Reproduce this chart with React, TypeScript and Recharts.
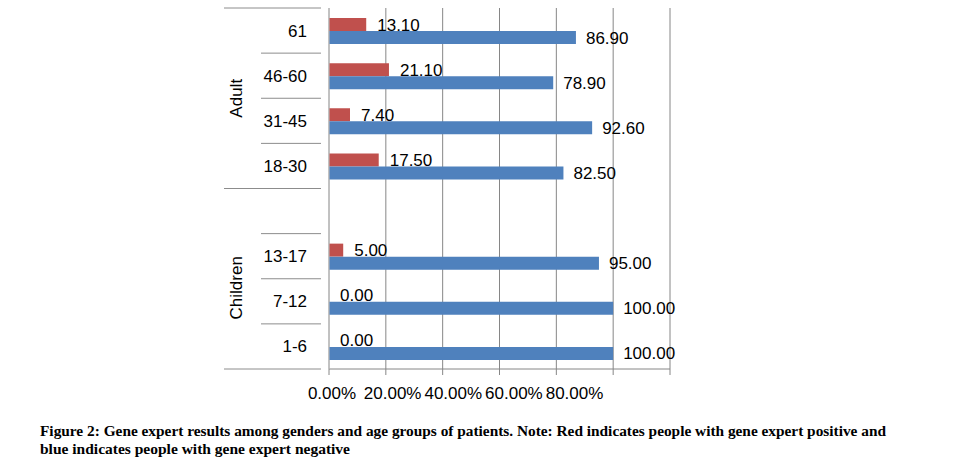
import React from "react";
import { Bar, BarChart, CartesianGrid, LabelList, XAxis, YAxis } from "recharts";

// age groups, top to bottom; the empty entry is the spacer row between the two groups
const AGE_GROUPS = ["61", "46-60", "31-45", "18-30", "", "13-17", "7-12", "1-6"];
const POSITIVE = [13.1, 21.1, 7.4, 17.5, null, 5.0, 0.0, 0.0];
const NEGATIVE = [86.9, 78.9, 92.6, 82.5, null, 95.0, 100.0, 100.0];
const X_TICKS = [0, 20, 40, 60, 80, 100, 120];
const X_TICK_LABELS = ["0.00%", "20.00%", "40.00%", "60.00%", "80.00%", "", ""];
// group name, drawn next to the row with this index
const GROUPS = [
  { name: "Adult", row: 1, shift: 0.5 },
  { name: "Children", row: 6, shift: -0.3 },
];
const CAPTION = [
  "Figure 2: Gene expert results among genders and age groups of patients. Note: Red indicates people with gene expert positive and",
  "blue indicates people with gene expert negative",
];

const W = 958;
const H = 473;
const TOP = 8;
const BOTTOM = 369;
const LEFT = 329;
const RIGHT = 670;
const BAND = (BOTTOM - TOP) / AGE_GROUPS.length;
const BAR = 13;
const FONT = "'Liberation Sans', Arial, sans-serif";
const SERIF = "'Liberation Serif', 'Times New Roman', serif";

const data = AGE_GROUPS.map((age, i) => ({
  age,
  positive: POSITIVE[i],
  negative: NEGATIVE[i],
}));

const fmt = (v: any) => (v == null ? "" : Number(v).toFixed(2));

function AgeTick(props: any) {
  const { x, y, payload, index } = props;
  const top = y - BAND / 2;
  const lineFrom = index === 0 || AGE_GROUPS[index] === "" ? 224 : 261;
  const group = GROUPS.find((g) => g.row === index);
  return (
    <g>
      <line x1={lineFrom} x2={x} y1={top} y2={top} stroke="#8c8c8c" strokeWidth={1} />
      {index === AGE_GROUPS.length - 1 && (
        <line x1={224} x2={x} y1={y + BAND / 2} y2={y + BAND / 2} stroke="#8c8c8c" strokeWidth={1} />
      )}
      <text x={307} y={y} dy={6} textAnchor="end" fontSize={17} fill="#000" fontFamily={FONT}>
        {payload.value}
      </text>
      {group && (
        <text
          x={0}
          y={0}
          textAnchor="middle"
          fontSize={17}
          fill="#000"
          fontFamily={FONT}
          transform={`translate(242, ${y + group.shift * BAND}) rotate(-90)`}
        >
          {group.name}
        </text>
      )}
    </g>
  );
}

function PctTick(props: any) {
  const { x, y, index } = props;
  return (
    <text x={x + 3 + index * 3.8} y={y + 22} textAnchor="middle" fontSize={17} fill="#000" fontFamily={FONT}>
      {X_TICK_LABELS[index]}
    </text>
  );
}

// label for the blue bar; a zero red bar is not drawn, so its "0.00" goes here too
function NegLabel(props: any) {
  const { x, y, width, height, value } = props;
  if (!value || value.negative == null) return null;
  const cy = y + height / 2;
  return (
    <g>
      <text x={x + width + 10} y={cy} dy={6} fontSize={17} fill="#000" fontFamily={FONT}>
        {fmt(value.negative)}
      </text>
      {value.positive === 0 && (
        <text x={x + 11} y={cy - BAR} dy={6} fontSize={17} fill="#000" fontFamily={FONT}>
          {fmt(value.positive)}
        </text>
      )}
    </g>
  );
}

function PosLabel(props: any) {
  const { x, y, width, height, value } = props;
  if (value == null || value === 0) return null;
  return (
    <text x={x + width + 11} y={y + height / 2} dy={6} fontSize={17} fill="#000" fontFamily={FONT}>
      {fmt(value)}
    </text>
  );
}

export default function App() {
  return (
    <div style={{ position: "absolute", left: 0, top: 0, width: W, height: H, background: "#fff" }}>
      <BarChart
        width={W}
        height={H}
        data={data}
        layout="vertical"
        margin={{ top: TOP, right: W - RIGHT, left: 0, bottom: 0 }}
        barGap={0}
      >
        <CartesianGrid horizontal={false} stroke="#868686" />
        <XAxis
          type="number"
          domain={[0, 120]}
          ticks={X_TICKS}
          height={H - BOTTOM}
          axisLine={{ stroke: "#868686" }}
          tickLine={{ stroke: "#868686" }}
          tickSize={6}
          tick={<PctTick />}
          interval={0}
        />
        <YAxis
          type="category"
          dataKey="age"
          width={LEFT}
          axisLine={{ stroke: "#c0c0c0" }}
          tickLine={false}
          tick={<AgeTick />}
          interval={0}
        />
        <Bar dataKey="positive" fill="#C0504D" barSize={BAR} isAnimationActive={false}>
          <LabelList dataKey="positive" content={<PosLabel />} />
        </Bar>
        <Bar dataKey="negative" fill="#4F81BD" barSize={BAR} isAnimationActive={false}>
          <LabelList dataKey={(d: any) => d} content={<NegLabel />} />
        </Bar>
      </BarChart>
      <svg width={W} height={H} style={{ position: "absolute", left: 0, top: 0, pointerEvents: "none" }}>
        <text
          x={40}
          y={436}
          fontSize={15.5}
          fontWeight="bold"
          fontFamily={SERIF}
          fill="#000"
          textLength={846}
          lengthAdjust="spacingAndGlyphs"
        >
          {CAPTION[0]}
        </text>
        <text
          x={40}
          y={454}
          fontSize={15.5}
          fontWeight="bold"
          fontFamily={SERIF}
          fill="#000"
          textLength={310}
          lengthAdjust="spacingAndGlyphs"
        >
          {CAPTION[1]}
        </text>
      </svg>
    </div>
  );
}
